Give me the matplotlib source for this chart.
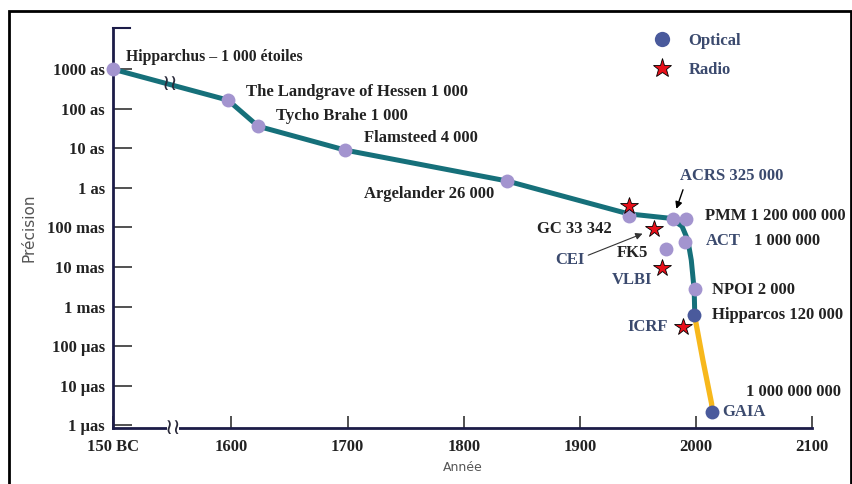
import matplotlib.pyplot as plt
from matplotlib.lines import Line2D
from matplotlib.patches import Rectangle

# x position used for "150 BC" (axis is broken between 150 BC and 1600)
bc_pos = 1498

# optical catalogues: name, year, precision (arcsec)
opt_names = ["Hipparchus", "Landgrave", "Tycho", "Flamsteed", "Argelander", "GC",
             "ACRS", "PMM", "ACT", "FK5", "NPOI", "Hipparcos", "GAIA"]
opt_years = [bc_pos, 1597, 1623, 1698, 1837, 1942, 1980, 1991.5, 1991, 1974, 1999, 1998.5, 2014]
opt_prec = [1000, 165, 36, 9, 1.5, 0.2, 0.16, 0.16, 0.043, 0.028, 0.0028, 0.0006, 2.2e-6]
opt_space = [False]*11 + [True, True]   # dark blue = space missions

# radio
radio_names = ["early", "CEI", "VLBI", "ICRF"]
radio_years = [1942, 1964, 1971, 1989]
radio_prec = [0.35, 0.091, 0.0093, 0.0003]

# trend lines
teal_years = [bc_pos, 1597, 1623, 1698, 1837, 1942, 1978, 1988, 1993, 1996, 1998.5, 1999]
teal_prec = [1000, 165, 36, 9, 1.5, 0.22, 0.17, 0.107, 0.048, 0.0148, 0.0026, 0.0006]
gold_years = [1998.8, 2006, 2013.5, 2014]
gold_prec = [0.0006, 4.4e-5, 3.5e-6, 2.2e-6]

xticks = [bc_pos, 1600, 1700, 1800, 1900, 2000, 2100]
xlabels = ["150 BC", "1600", "1700", "1800", "1900", "2000", "2100"]
yticks = [1e3, 1e2, 1e1, 1, 1e-1, 1e-2, 1e-3, 1e-4, 1e-5, 1e-6]
ylabels = ["1000 as", "100 as", "10 as", "1 as", "100 mas", "10 mas", "1 mas",
           "100 µas", "10 µas", "1 µas"]

lavender = "#a394cf"
darkblue = "#4a5a9c"
teal = "#16707a"
gold = "#f7b81c"
red = "#e8101a"
navy = "#1c1c48"
slate = "#3b4a6e"
ink = "#222222"
serif = "Liberation Serif"
fs = 12

fig = plt.figure(figsize=(8.53, 4.84), dpi=100)
ax = fig.add_axes([0.1325, 0.1157, 0.8195, 0.8264])
ax.set_yscale("log")
ax.set_xlim(bc_pos, 2100)
ax.set_ylim(10**-6.07, 10**4.04)

ax.plot(teal_years, teal_prec, color=teal, lw=3.6, solid_capstyle="round",
        solid_joinstyle="round", zorder=2)
ax.plot(gold_years, gold_prec, color=gold, lw=3.8, solid_capstyle="round",
        solid_joinstyle="round", zorder=2)

for yr, p, sp in zip(opt_years, opt_prec, opt_space):
    ax.plot(yr, p, "o", ms=10, color=darkblue if sp else lavender, mec="none", zorder=3, clip_on=False)
ax.plot(radio_years, radio_prec, "*", ms=13, color=red, mec="black", mew=0.6, zorder=4)

txt = dict(fontfamily=serif, fontweight="bold", fontsize=fs, va="center")

def label(x, y, s, dx, dy, ha="left", color=ink, size=fs):
    kw = dict(txt, fontsize=size)
    ax.annotate(s, (x, y), xytext=(dx, -dy), textcoords="offset pixels", ha=ha, color=color, **kw)

o = dict(zip(opt_names, zip(opt_years, opt_prec)))
r = dict(zip(radio_names, zip(radio_years, radio_prec)))
label(*o["Hipparchus"], "Hipparchus – 1 000 étoiles", 13, -12, size=11.3)
label(*o["Landgrave"], "The Landgrave of Hessen 1 000", 18, -8)
label(*o["Tycho"], "Tycho Brahe 1 000", 18, -10)
label(*o["Flamsteed"], "Flamsteed 4 000", 19, -12)
label(*o["Argelander"], "Argelander 26 000", -12, 13, ha="right")
label(*o["GC"], "GC 33 342", -17, 13, ha="right")
label(*o["PMM"], "PMM 1 200 000 000", 19, -3)
label(*o["ACT"], "ACT", 20, -1, color=slate)
label(*o["ACT"], "1 000 000", 69, -1)
label(*o["FK5"], "FK5", -18, 4, ha="right")
label(*o["NPOI"], "NPOI 2 000", 17, 1)
label(*o["Hipparcos"], "Hipparcos 120 000", 18, 0)
label(*o["GAIA"], "GAIA", 10, 0, color=slate)
label(*o["GAIA"], "1 000 000 000", 34, -20)
label(*r["VLBI"], "VLBI", -10, 12, ha="right", color=slate)
label(*r["ICRF"], "ICRF", -15, 0, ha="right", color=slate)

ax.annotate("ACRS 325 000", o["ACRS"], xytext=(7, 43), textcoords="offset pixels",
            ha="left", color=slate, **txt,
            arrowprops=dict(arrowstyle="-|>", color="black", lw=1, shrinkA=2, shrinkB=8,
                            mutation_scale=10, relpos=(0.05, 0.0)))
ax.annotate("CEI", r["CEI"], xytext=(-70, -31), textcoords="offset pixels",
            ha="right", color=slate, **txt,
            arrowprops=dict(arrowstyle="-|>", color="#333333", lw=0.8, shrinkA=1, shrinkB=9,
                            mutation_scale=10, relpos=(1.0, 0.7)))

# axes styling
for s in ["top", "right"]:
    ax.spines[s].set_visible(False)
for s in ["left", "bottom"]:
    ax.spines[s].set_color(navy)
    ax.spines[s].set_linewidth(2)
ax.plot([0, 0.025], [1, 1], transform=ax.transAxes, color=navy, lw=1.5, clip_on=False)

ax.set_xticks(xticks)
ax.set_xticklabels(xlabels)
ax.set_yticks(yticks)
ax.set_yticklabels(ylabels)
ax.minorticks_off()
ax.tick_params(axis="x", direction="in", length=9, width=1.2, color="#333333", pad=8)
ax.tick_params(axis="y", direction="in", length=14, width=1.2, color="#333333", pad=6)
for t in ax.get_xticklabels() + ax.get_yticklabels():
    t.set_fontfamily(serif)
    t.set_fontweight("bold")
    t.set_fontsize(fs)
    t.set_color(ink)

ax.set_xlabel("Année", fontsize=9, color="#555555", labelpad=4)
ax.set_ylabel("Précision", fontsize=11, color="#555555", labelpad=8)

# axis break marks
brk = dict(fontsize=16, color="#2a2a3a", ha="center", va="center")
ax.text(0.0858, 0.0, "≀≀", transform=ax.transAxes,
        bbox=dict(fc="white", ec="none", pad=-1.5), **brk)
ax.text(0.0815, 0.86, "≀≀", transform=ax.transAxes, **brk)

handles = [Line2D([], [], ls="none", marker="o", ms=11, color=darkblue, mec="none"),
           Line2D([], [], ls="none", marker="*", ms=14, color=red, mec="black", mew=0.6)]
leg = ax.legend(handles, ["Optical", "Radio"], loc="upper left", bbox_to_anchor=(0.74, 1.025),
                frameon=False, handletextpad=0.6, labelspacing=0.75,
                prop=dict(family=serif, weight="bold", size=fs))
for t in leg.get_texts():
    t.set_color(slate)

fig.patches.append(Rectangle((0.0106, -0.01), 0.987, 0.987, transform=fig.transFigure,
                             fill=False, ec="black", lw=2))

fig.savefig("out.png", dpi=100)
